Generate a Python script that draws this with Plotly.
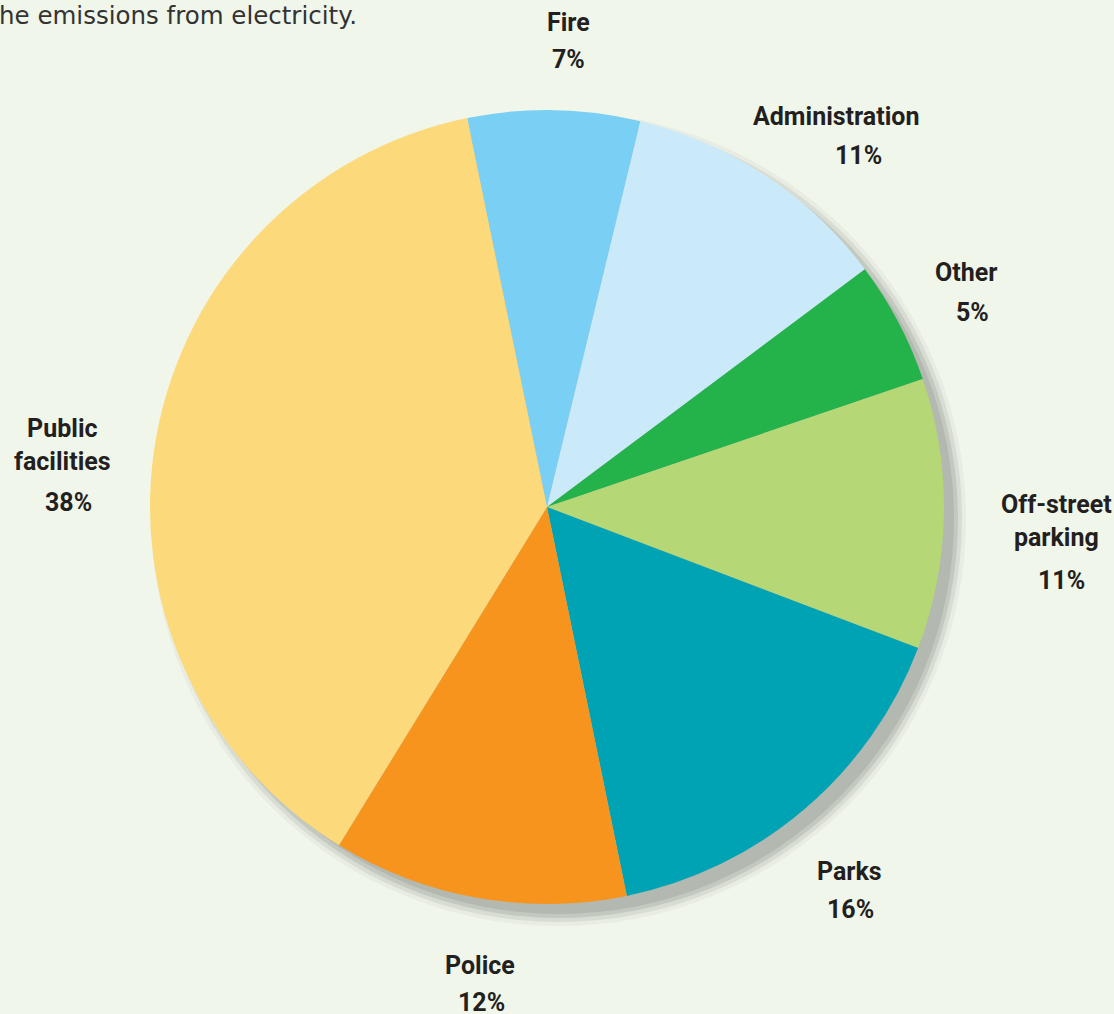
import plotly.graph_objects as go

categories = ["Fire", "Administration", "Other", "Off-street parking", "Parks", "Police", "Public facilities"]
name_lines = ["Fire", "Administration", "Other", "Off-street<br>parking", "Parks", "Police", "Public<br>facilities"]
values = [7, 11, 5, 11, 16, 12, 38]
colors = ["#7ACFF4", "#CBEAF9", "#24B24B", "#B5D775", "#00A3B4", "#F7941E", "#FCD97A"]

W, H = 1114, 1014
cx, cy, r = 547, 507, 397  # pixel layout of pie

# label layout in pixels (top-left origin): name centre x, name centre y, pct centre x, pct centre y
label_pos = {
    "Fire": (568, 22, 568, 60),
    "Administration": (836, 116, 858, 155),
    "Other": (966, 272, 972, 312),
    "Off-street parking": (1056, 521, 1061, 580),
    "Parks": (849, 871, 850, 909),
    "Police": (480, 965, 481, 1002),
    "Public facilities": (62, 445, 68, 502),
}

fig = go.Figure()
fig.add_trace(go.Pie(
    labels=categories, values=values, sort=False, direction="clockwise",
    rotation=-11.6, marker=dict(colors=colors, line=dict(width=0)),
    textinfo="none", hoverinfo="label+percent", showlegend=False,
    domain=dict(x=[(cx - r) / W, (cx + r) / W], y=[(H - cy - r) / H, (H - cy + r) / H]),
))

shapes = []
# soft shadow behind pie
for grow, col in [(12, "rgba(180,184,177,0.15)"), (8, "rgba(180,184,177,0.3)"), (4, "rgba(180,184,177,0.55)"), (0, "#b3b8b0")]:
    ox, oy = 12, 12
    rr = r + grow - 2
    shapes.append(dict(type="circle", xref="paper", yref="paper", layer="below",
                       x0=(cx + ox - rr) / W, x1=(cx + ox + rr) / W,
                       y0=(H - cy - oy - rr) / H, y1=(H - cy - oy + rr) / H,
                       fillcolor=col, line=dict(width=0)))

annotations = []
font_lab = dict(family="Roboto", size=25, color="#231F20")

def add_text(text, px, py, font):
    annotations.append(dict(
        x=px / W, y=1 - py / H, xref="paper", yref="paper", showarrow=False,
        text=text, align="center", font=font, xanchor="center", yanchor="middle"))

for cat, lab, v in zip(categories, name_lines, values):
    nx, ny, qx, qy = label_pos[cat]
    add_text(f"<b>{lab.replace('<br>', '</b><br><b>')}</b>", nx, ny, font_lab)
    add_text(f"<b>{v}%</b>", qx, qy, font_lab)

annotations.append(dict(
    x=0, y=1 - 16 / H, xref="paper", yref="paper", showarrow=False,
    text="he emissions from electricity.", xanchor="left", yanchor="middle",
    xshift=-3,
    font=dict(family="DejaVu Sans", size=24.5, color="#333333"),
))

fig.update_layout(
    width=W, height=H, margin=dict(l=0, r=0, t=0, b=0),
    paper_bgcolor="#F1F6EB", plot_bgcolor="#F1F6EB",
    shapes=shapes, annotations=annotations,
)

fig.write_html("out.html", config={"displayModeBar": False},
               post_script="document.body.style.margin='0';document.body.style.background='#F1F6EB';")
